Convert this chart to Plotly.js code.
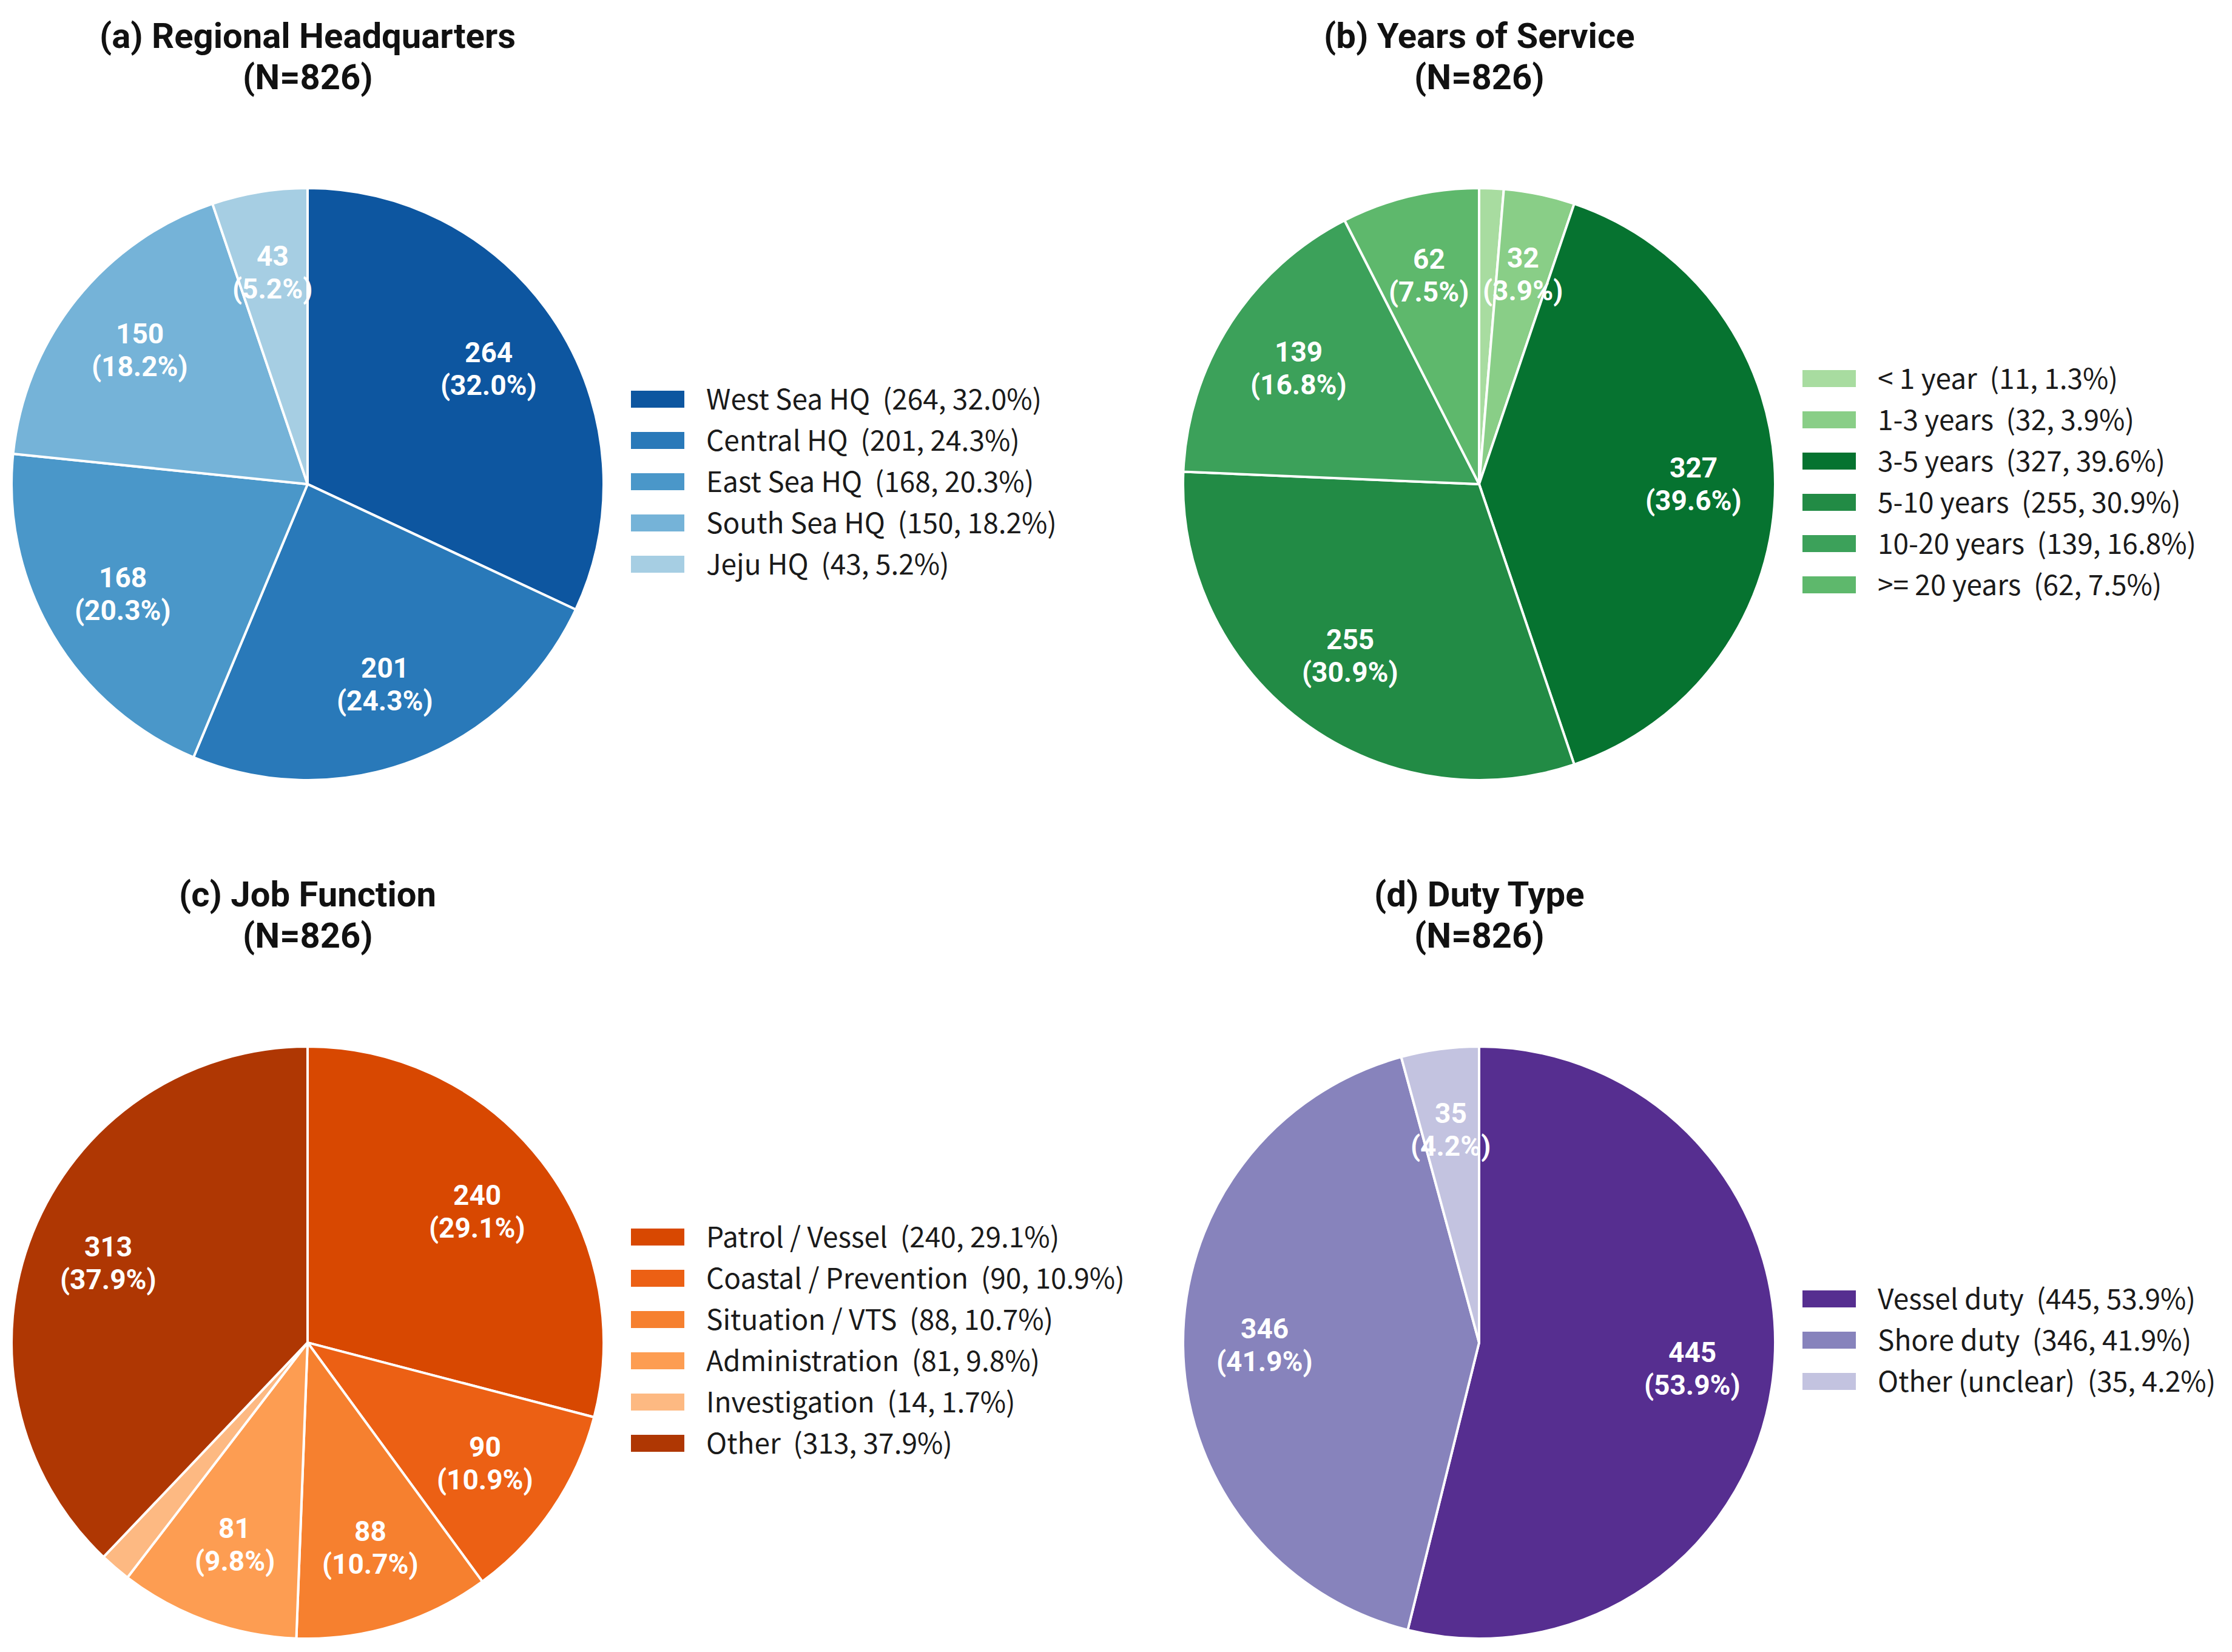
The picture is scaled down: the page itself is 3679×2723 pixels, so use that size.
<!DOCTYPE html>
<html>
<head>
<meta charset="utf-8">
<script src="https://cdn.plot.ly/plotly-3.0.1.min.js"></script>
<style>
  html, body { margin: 0; padding: 0; background: #fff; }
  #chart { width: 3679px; height: 2723px; }
</style>
</head>
<body>
<div id="chart"></div>
<script>
// survey sample, N = 826 in every panel
var hqLabels = ['West Sea HQ', 'Central HQ', 'East Sea HQ', 'South Sea HQ', 'Jeju HQ'];
var hqCounts = [264, 201, 168, 150, 43];
var hqColors = ['#0d56a0', '#2979b9', '#4a97c9', '#75b3d8', '#a6cee3'];

var yearLabels = ['< 1 year', '1-3 years', '3-5 years', '5-10 years', '10-20 years', '>= 20 years'];
var yearCounts = [11, 32, 327, 255, 139, 62];
var yearColors = ['#a8dca0', '#89ce87', '#067330', '#228b45', '#3ca15a', '#5eb86c'];

var jobLabels = ['Patrol / Vessel', 'Coastal / Prevention', 'Situation / VTS', 'Administration', 'Investigation', 'Other'];
var jobCounts = [240, 90, 88, 81, 14, 313];
var jobColors = ['#d84801', '#ec6014', '#f6802f', '#fd9d52', '#fdb982', '#af3703'];

var dutyLabels = ['Vessel duty', 'Shore duty', 'Other (unclear)'];
var dutyCounts = [445, 346, 35];
var dutyColors = ['#562e90', '#8783bc', '#c3c3e0'];

var titles = ['(a) Regional Headquarters', '(b) Years of Service', '(c) Job Function', '(d) Duty Type'];

var FONT = '"Noto Sans CJK KR", "Noto Sans", sans-serif';
var TFONT = 'Roboto, "Noto Sans", sans-serif';
var W = 3679, H = 2723;
var R = 488;                 // pie radius in px
var colX = [507, 2438];      // pie centres
var rowY = [798, 2213];
var legX = [1039, 2970];     // left edge of legend swatches
var LABEL_R = 0.725;         // where the slice labels sit (fraction of radius)

function esc(s) {
  return s.replace(/</g, '&lt;').replace(/>/g, '&gt;');
}

var annotations = [];

function px(x) { return x / W; }
function py(y) { return 1 - y / H; }

function makePie(labels, counts, colors, col, row, legName) {
  var total = counts.reduce(function (a, b) { return a + b; }, 0);
  var pcts = counts.map(function (v) { return (v / total * 100).toFixed(1) + '%'; });
  var legText = labels.map(function (l, i) {
    return '<span style="font-size:46px">' + esc(l) + '\u00a0\u00a0(' + counts[i] + ', ' + pcts[i] + ')</span>';
  });
  var cx = colX[col], cy = rowY[row];

  // value / percent labels at a fixed distance from the centre, tiny slices left bare
  var cum = 0;
  counts.forEach(function (v, i) {
    var mid = (cum + v / 2) / total * 2 * Math.PI;
    cum += v;
    if (v / total < 0.03) return;
    var lx = cx + LABEL_R * R * Math.sin(mid);
    var ly = cy - LABEL_R * R * Math.cos(mid);
    [String(v), '(' + pcts[i] + ')'].forEach(function (t, k) {
      annotations.push({
        xref: 'paper', yref: 'paper',
        x: px(lx), y: py(ly + (k === 0 ? -27 : 27)),
        xanchor: 'center', yanchor: 'middle',
        showarrow: false,
        text: '<b>' + t + '</b>',
        font: { family: TFONT, size: 46, color: '#ffffff' }
      });
    });
  });

  return {
    type: 'pie',
    labels: legText,
    values: counts,
    sort: false,
    direction: 'clockwise',
    rotation: 0,
    marker: { colors: colors, line: { color: '#ffffff', width: 4 } },
    textinfo: 'none',
    hoverinfo: 'label+value+percent',
    domain: {
      x: [px(cx - R), px(cx + R)],
      y: [py(cy + R), py(cy - R)]
    },
    legend: legName
  };
}

var data = [
  makePie(hqLabels, hqCounts, hqColors, 0, 0, 'legend'),
  makePie(yearLabels, yearCounts, yearColors, 1, 0, 'legend2'),
  makePie(jobLabels, jobCounts, jobColors, 0, 1, 'legend3'),
  makePie(dutyLabels, dutyCounts, dutyColors, 1, 1, 'legend4')
];

function legendAt(col, row) {
  return {
    x: px(legX[col] - 35),
    xanchor: 'left',
    y: py(rowY[row] - 7),
    yanchor: 'middle',
    font: { family: FONT, size: 50, color: '#1a1a1a' },
    itemwidth: 150,
    bgcolor: 'rgba(0,0,0,0)',
    borderwidth: 0
  };
}

// two-line subplot titles
titles.forEach(function (t, i) {
  var col = i % 2, row = Math.floor(i / 2);
  var top = rowY[row] - 739;
  [t, '(N=826)'].forEach(function (line, k) {
    annotations.push({
      xref: 'paper', yref: 'paper',
      x: px(colX[col]), y: py(top + k * 68),
      xanchor: 'center', yanchor: 'middle',
      showarrow: false,
      text: '<b>' + line + '</b>',
      font: { family: TFONT, size: 58, color: '#111111' }
    });
  });
});

var layout = {
  width: W,
  height: H,
  margin: { l: 0, r: 0, t: 0, b: 0 },
  paper_bgcolor: '#ffffff',
  font: { family: FONT },
  showlegend: true,
  legend: legendAt(0, 0),
  legend2: legendAt(1, 0),
  legend3: legendAt(0, 1),
  legend4: legendAt(1, 1),
  annotations: annotations
};

Plotly.newPlot('chart', data, layout, { displayModeBar: false, staticPlot: true }).then(function () {
  // wide flat swatches like the original legend
  document.querySelectorAll('.legendpie').forEach(function (p) {
    p.setAttribute('d', 'M-44,-11H44V17H-44Z');
    p.style.strokeWidth = '0';
  });
});
</script>
</body>
</html>
